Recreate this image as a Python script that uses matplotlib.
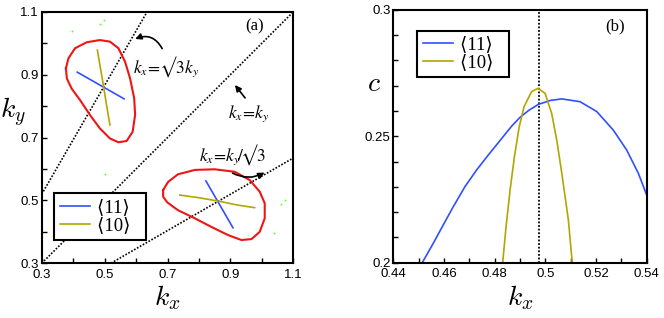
import numpy as np
import matplotlib
matplotlib.use("Agg")
import matplotlib.pyplot as plt

plt.rcParams['font.family'] = ['Liberation Sans', 'DejaVu Sans']
plt.rcParams['mathtext.fontset'] = 'cm'

BLUE = '#3050ff'
OLIVE = '#b3a600'
RED = '#f01515'

# ---- panel (a) data ----
upper_x = [0.377, 0.385, 0.406, 0.443, 0.485, 0.517, 0.544, 0.565, 0.581, 0.594,
           0.597, 0.589, 0.570, 0.544, 0.517, 0.485, 0.454, 0.422, 0.395, 0.380, 0.377]
upper_y = [0.920, 0.952, 0.984, 1.003, 1.010, 1.005, 0.984, 0.941, 0.888, 0.825,
           0.772, 0.718, 0.689, 0.685, 0.697, 0.729, 0.771, 0.819, 0.856, 0.888, 0.920]
lower_x = [0.686, 0.702, 0.733, 0.787, 0.850, 0.914, 0.961, 0.993, 1.009, 1.009,
           0.993, 0.967, 0.935, 0.892, 0.839, 0.787, 0.733, 0.699, 0.686, 0.686]
lower_y = [0.533, 0.559, 0.583, 0.597, 0.599, 0.591, 0.565, 0.528, 0.491, 0.443,
           0.400, 0.377, 0.374, 0.390, 0.416, 0.443, 0.469, 0.494, 0.512, 0.533]

up11_x = [0.413, 0.562]
up11_y = [0.908, 0.823]
up10_x = [0.477, 0.486, 0.496, 0.503, 0.510, 0.517]
up10_y = [0.978, 0.925, 0.867, 0.823, 0.780, 0.740]
lo11_x = [0.822, 0.908]
lo11_y = [0.562, 0.413]
lo10_x = [0.739, 0.797, 0.861, 0.924, 0.977]
lo10_y = [0.517, 0.509, 0.498, 0.485, 0.477]

dots_x = [0.395, 0.485, 0.499, 0.501, 1.061, 1.074, 1.040]
dots_y = [1.040, 1.060, 1.074, 0.583, 0.488, 0.501, 0.395]

line_k = np.array([0.3, 1.1])
labels = ['⟨11⟩\u2002', '⟨10⟩\u2002']

# ---- panel (b) data ----
b11_x = [0.4516, 0.4558, 0.4597, 0.4637, 0.4683, 0.4729, 0.4775, 0.4821, 0.4867,
         0.4900, 0.4935, 0.4972, 0.5020, 0.5065, 0.5137, 0.5203, 0.5268, 0.5321,
         0.5367, 0.5400]
b11_y = [0.2003, 0.2077, 0.2149, 0.2222, 0.2301, 0.2367, 0.2426, 0.2483, 0.2540,
         0.2575, 0.2603, 0.2626, 0.2642, 0.2648, 0.2637, 0.2598, 0.2525, 0.2446,
         0.2354, 0.2268]
b10_x = [0.4832, 0.4845, 0.4861, 0.4878, 0.4897, 0.4916, 0.4946, 0.4972, 0.4999,
         0.5025, 0.5045, 0.5065, 0.5091, 0.5106]
b10_y = [0.2003, 0.2142, 0.2288, 0.2419, 0.2538, 0.2617, 0.2677, 0.2690, 0.2670,
         0.2591, 0.2486, 0.2354, 0.2169, 0.2003]
kx_mark = 0.4975

fig = plt.figure(figsize=(6.64, 3.18), dpi=100)
axa = fig.add_axes([0.0628, 0.172, 0.379, 0.791])
axb = fig.add_axes([0.5923, 0.174, 0.3816, 0.7947])

dot = (0, (1, 1))

# (a)
axa.plot(line_k, np.sqrt(3) * line_k, color='k', ls=dot, lw=1.2)
axa.plot(line_k, line_k, color='k', ls=dot, lw=1.2)
axa.plot(line_k, line_k / np.sqrt(3), color='k', ls=dot, lw=1.2)
axa.plot(upper_x, upper_y, color=RED, lw=1.5, solid_joinstyle='round')
axa.plot(lower_x, lower_y, color=RED, lw=1.5, solid_joinstyle='round')
l11, = axa.plot(up11_x, up11_y, color=BLUE, lw=1.2)
l10, = axa.plot(up10_x, up10_y, color=OLIVE, lw=1.2)
axa.plot(lo11_x, lo11_y, color=BLUE, lw=1.2)
axa.plot(lo10_x, lo10_y, color=OLIVE, lw=1.2)
axa.scatter(dots_x, dots_y, s=2, color='#66ff33', lw=0, zorder=3)

arr = dict(arrowstyle='-|>', color='k', lw=1.2, mutation_scale=9)
axa.annotate('', xy=(0.589, 1.010), xytext=(0.687, 0.975),
             arrowprops=dict(arr, connectionstyle='arc3,rad=0.5'))
axa.annotate('', xy=(0.909, 0.874), xytext=(0.952, 0.819), arrowprops=arr)
axa.annotate('', xy=(1.016, 0.593), xytext=(0.899, 0.591),
             arrowprops=dict(arr, connectionstyle='arc3,rad=0.3'))

tkw = dict(ha='center', va='center', fontsize=12.5, math_fontfamily='stix')
axa.text(0.697, 0.925, r'$k_x\!=\!√3k_y$', **tkw)
axa.text(0.957, 0.777, r'$k_x\!=\!k_y$', **tkw)
axa.text(0.906, 0.646, r'$k_x\!=\!k_y\!/\!√3$', **tkw)
axa.text(0.978, 1.054, '(a)', ha='center', va='center', fontsize=12,
         family='Liberation Serif')

axa.set_xlim(0.3, 1.1)
axa.set_ylim(0.3, 1.1)
axa.set_xticks([0.3, 0.5, 0.7, 0.9, 1.1])
axa.set_yticks([0.3, 0.5, 0.7, 0.9, 1.1])
axa.set_xticks(np.arange(0.4, 1.1, 0.2), minor=True)
axa.set_yticks(np.arange(0.4, 1.1, 0.2), minor=True)
axa.set_xticklabels(['0.3', '0.5', '0.7', '0.9', '1.1'])
axa.set_yticklabels(['0.3', '0.5', '0.7', '0.9', '1.1'])
axa.set_xlabel(r'$k_x$', fontsize=20, labelpad=2)
axa.set_ylabel(r'$k_y$', fontsize=20, rotation=0, va='center', ha='center')
axa.yaxis.set_label_coords(-0.115, 0.60)

lkw = dict(loc='lower left', prop=dict(family=['Liberation Serif', 'DejaVu Serif', 'DejaVu Sans'], size=13.5),
           fancybox=False, edgecolor='k', framealpha=1, handlelength=1.6,
           borderpad=0.3, labelspacing=0.05, handletextpad=0.4, borderaxespad=0)
leg = axa.legend([l11, l10], labels, bbox_to_anchor=(0.049, 0.093), **lkw)
leg.get_frame().set_linewidth(1.5)

# (b)
axb.axvline(kx_mark, color='k', ls=dot, lw=1.3)
m11, = axb.plot(b11_x, b11_y, color=BLUE, lw=1.2)
m10, = axb.plot(b10_x, b10_y, color=OLIVE, lw=1.2)
axb.set_xlim(0.44, 0.54)
axb.set_ylim(0.2, 0.3)
axb.set_xticks([0.44, 0.46, 0.48, 0.5, 0.52, 0.54])
axb.set_xticklabels(['0.44', '0.46', '0.48', '0.5', '0.52', '0.54'])
axb.set_xticks(np.arange(0.45, 0.54, 0.02), minor=True)
axb.set_yticks([0.2, 0.25, 0.3])
axb.set_yticklabels(['0.2', '0.25', '0.3'])
axb.set_yticks(np.arange(0.21, 0.295, 0.01), minor=True)
axb.text(0.5275, 0.2933, '(b)', ha='center', va='center', fontsize=12,
         family='Liberation Serif')
axb.set_xlabel(r'$k_x$', fontsize=20, labelpad=2)
axb.set_ylabel(r'$c$', fontsize=20, rotation=0, va='center', ha='center')
axb.yaxis.set_label_coords(-0.076, 0.707)

leg2 = axb.legend([m11, m10], labels, bbox_to_anchor=(0.095, 0.734), **lkw)
leg2.get_frame().set_linewidth(1.5)

for ax in (axa, axb):
    for s in ax.spines.values():
        s.set_linewidth(1.5)
    ax.tick_params(which='both', direction='in', length=3.5, width=1.0,
                   labelsize=9.5, pad=2)
    ax.tick_params(axis='x', pad=4)

fig.savefig('out.png', dpi=100)
